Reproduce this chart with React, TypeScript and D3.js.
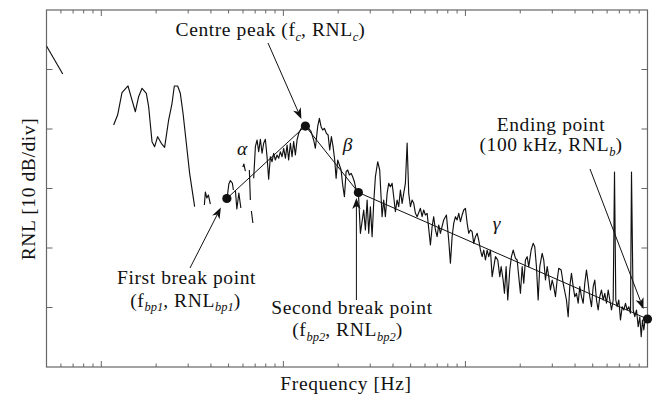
import React from "react";
import * as d3 from "d3";

// ---------- data (frequency in Hz, level in dB relative to bottom of axis) ----------
const FREQ_DOMAIN = [50, 100000];
const DB_DOMAIN = [0, 60];
const DB_TICKS = [10, 20, 30, 40, 50];

const topLineFreq = [50, 61.4];
const topLineDb = [53.95, 49.24];

const lowBumpFreq = [116.9, 122.9, 129.9, 140.2, 145.6, 153.8, 160.3, 167.4, 176.7, 182, 189.9, 196.3, 203.9, 213.6, 222.7, 234.3, 244.6, 251.8, 262.6, 271.6, 281.1, 293.1, 305.6, 325.6];
const lowBumpDb = [40.67, 42.35, 46.1, 47.23, 45.43, 42.9, 45.43, 46.84, 46.0, 43.75, 37.87, 37.03, 38.71, 37.6, 36.92, 41.51, 44.32, 47.23, 47.23, 46.0, 42.64, 37.6, 32.55, 26.94];

const frag1Freq = [368.1, 372.8, 380, 387.3, 397.2];
const frag1Db = [27.23, 29.41, 28.4, 28.91, 27.39];
const frag2Freq = [492.4, 501.8, 511.5, 524.6, 531.3];
const frag2Db = [28.74, 30.76, 31.34, 30.92, 29.75];
const frag3Freq = [544.9, 555.3, 569.5, 584.1];
const frag3Db = [29.75, 26.55, 29.24, 26.72];
const frag4Freq = [599.1, 606.7, 618.3];
const frag4Db = [33.61, 34.12, 32.94];
const frag5Freq = [650.4, 658.7];
const frag5Db = [33.11, 28.07];
const frag6Freq = [667.1, 679.9];
const frag6Db = [26.22, 24.2];

const mainFreq = [
  686.9, 701.9, 717.1, 731.8, 747.6, 763.8, 779.5, 796.3, 813.6, 830.2, 848.3, 866.7, 884.4, 903.6, 923.4, 942.4, 962.7, 983.7,
  1004, 1026, 1048, 1069, 1093, 1116, 1139, 1164, 1189, 1214, 1240, 1267, 1321, 1377, 1420, 1467, 1499, 1543, 1577, 1611, 1644,
  1680, 1723, 1761, 1797, 1835, 1875, 1914, 1948, 1988, 2031, 2075, 2118, 2164, 2211, 2256, 2305, 2355, 2403, 2455, 2509, 2583,
  2649, 2762, 2822, 2884, 2943, 3006, 3072, 3134, 3202, 3297, 3381, 3485, 3557, 3634, 3714, 3789, 3871, 3956, 4037, 4124, 4214,
  4300, 4394, 4489, 4581, 4680, 4783, 4881, 4987, 5095, 5199, 5313, 5428, 5659, 5782, 5900, 6028, 6160, 6422, 6561, 6695, 6841,
  6989, 7132, 7287, 7598, 7862, 8093, 8270, 8450, 8623, 8811, 9002, 9188, 9387, 9592, 9788, 10000, 10220, 10430, 10650, 10880,
  11110, 11350, 11600, 11830, 12090, 12350, 12610, 12880, 13160, 13430, 13720, 14020, 14620, 15050, 15440, 15710, 16110, 16380,
  16730, 17080, 17520, 17890, 18290, 18830, 19230, 19630, 20050, 20490, 20910, 21360, 21830, 22270, 22960, 23550, 24030, 24550,
  25080, 25600, 26390, 26930, 27520, 28120, 28690, 29310, 29950, 30560, 31220, 31900, 32550, 33560, 34420, 34990, 35880, 36670,
  37420, 38230, 39070, 39860, 40730, 41610, 42460, 43390, 44330, 45240, 46220, 47230, 48200, 49240, 50310, 51340, 52460, 53590,
  54690, 55880, 57100, 58260, 59530, 60830, 62080, 63420, 64800, 65880, 66960, 68160, 69560, 71060, 72600, 74100, 75700, 77350,
  78940, 80650, 81680, 83450, 85160, 87020, 88910, 90730, 92350, 93870, 95440, 97500, 100000,
];
const mainDb = [
  31.71, 37.03, 38.15, 36.18, 38.27, 35.92, 37.6, 38.27, 35.34, 31.55, 35.34, 34.5, 35.92, 34.79, 35.63, 35.08, 36.18, 35.34,
  36.76, 35.08, 37.31, 34.79, 37.6, 35.34, 37.87, 35.63, 38.15, 39.28, 39.83, 40.39, 40.55, 40.12, 39.55, 38.15, 36.76, 40.39, 41.8, 40.39, 39.83,
  40.12, 39.28, 38.99, 36.47, 38.71, 37.03, 34.79, 31.71, 34.79, 33.95, 33.11, 30.59, 28.62, 32.82, 33.11, 32.27, 32.55, 31.98, 31.14, 29.75, 29.33,
  22.47, 26.39, 23.03, 28.07, 22.47, 26.94, 21.9, 27.51, 31.98, 34.5, 33.11, 25.26, 28.07, 25.26, 29.19, 30.87, 30.3, 30.87, 28.62, 26.1, 28.07,
  26.94, 29.75, 27.51, 29.19, 30.87, 37.65, 29.19, 26.94, 28.07, 27.51, 25.83, 25.26, 26.67, 25.26, 26.39, 25.55, 25.83, 20.5, 23.58, 25.26, 23.03,
  21.9, 23.87, 22.47, 24.71, 25.55, 21.34, 17.43, 21.9, 24.15, 25.26, 24.71, 25.83, 24.42, 25.55, 26.39, 26.67, 24.15, 22.47, 23.03, 22.74,
  20.79, 21.9, 22.47, 21.34, 19.66, 18.54, 19.66, 17.98, 19.66, 18.54, 19.66, 15.18, 18.54, 17.98, 15.18, 16.86, 14.62, 12.39,
  16.86, 11.26, 16.3, 18.54, 19.66, 18.27, 17.98, 15.18, 12.39, 16.86, 14.07, 17.98, 18.54, 16.86, 19.66, 20.79, 20.22, 16.86,
  11.26, 16.86, 19.11, 17.98, 14.62, 16.86, 15.18, 12.94, 14.62, 13.5, 11.82, 14.62, 16.59, 16.3, 14.07, 12.94, 11.26, 8.45,
  13.5, 15.75, 13.5, 11.82, 12.39, 10.71, 13.5, 11.82, 10.71, 14.07, 16.3, 14.07, 11.82, 10.13, 13.5, 14.62, 11.26, 9.58,
  11.82, 12.94, 11.26, 12.39, 10.71, 12.94, 11.26, 9.58, 11.26, 32.77, 11.26, 10.13, 11.26, 7.9, 10.13, 9.58, 10.71, 9.58,
  10.13, 9.03, 32.77, 9.58, 8.45, 9.58, 6.77, 8.45, 5.09, 7.9, 6.22, 8.45, 8.07,
];

// break points of the fitted model: first break, centre peak, second break, ending point
const fitFreq = [489.3, 1321, 2583, 100000];
const fitDb = [28.32, 40.5, 29.33, 8.07];

// ---------- layout ----------
const W = 655;
const H = 397;
const L = 46.5, R = 647.5, T = 10, B = 367;
const FONT = "'Liberation Serif', 'Times New Roman', serif";
const INK = "#111";
const AXIS = "#666";
const FS = 19.5;
const LS = 0.6;
const SUB = 12.5;
const SUBDY = 4.5;

const x = d3.scaleLog().domain(FREQ_DOMAIN).range([L, R]);
const y = d3.scaleLinear().domain(DB_DOMAIN).range([B, T]);

const line = d3
  .line<[number, number]>()
  .x((d) => x(d[0]))
  .y((d) => y(d[1]));

const zip = (f: number[], v: number[]) => f.map((ff, i) => [ff, v[i]] as [number, number]);

const segments = [
  zip(topLineFreq, topLineDb),
  zip(lowBumpFreq, lowBumpDb),
  zip(frag1Freq, frag1Db),
  zip(frag2Freq, frag2Db),
  zip(frag3Freq, frag3Db),
  zip(frag4Freq, frag4Db),
  zip(frag5Freq, frag5Db),
  zip(frag6Freq, frag6Db),
  zip(mainFreq, mainDb),
];

const fitPts = zip(fitFreq, fitDb);

function Arrow({ x1, y1, x2, y2 }: { x1: number; y1: number; x2: number; y2: number }) {
  const ang = Math.atan2(y2 - y1, x2 - x1);
  const deg = (ang * 180) / Math.PI;
  const len = 11;
  const bx = x2 - Math.cos(ang) * 8;
  const by = y2 - Math.sin(ang) * 8;
  return (
    <g>
      <line x1={x1} y1={y1} x2={bx} y2={by} stroke={INK} strokeWidth={1} />
      <path
        d={`M0,0 L${-len},-4.2 L${-len + 3},0 L${-len},4.2 Z`}
        transform={`translate(${x2},${y2}) rotate(${deg})`}
        fill={INK}
      />
    </g>
  );
}

// parts: alternating normal / subscript strings, starting with normal
function Label({ x: tx, y: ty, parts }: { x: number; y: number; parts: string[] }) {
  return (
    <text x={tx} y={ty} textAnchor="middle">
      {parts.map((p, i) => {
        const isSub = i % 2 === 1;
        const dy = i === 0 ? 0 : isSub ? SUBDY : -SUBDY;
        return (
          <tspan
            key={i}
            dy={dy}
            fontSize={isSub ? SUB : undefined}
            fontStyle={isSub ? "italic" : undefined}
            letterSpacing={isSub ? 0 : undefined}
          >
            {p}
          </tspan>
        );
      })}
    </text>
  );
}

export default function App() {
  const xticks = x.ticks();
  const isMajor = (v: number) => Math.abs(Math.log10(v) - Math.round(Math.log10(v))) < 1e-6;

  const [bp1x, bp1y] = [x(fitFreq[0]), y(fitDb[0])];
  const [cx, cy] = [x(fitFreq[1]), y(fitDb[1])];
  const [bp2x, bp2y] = [x(fitFreq[2]), y(fitDb[2])];
  const [ex, ey] = [x(fitFreq[3]), y(fitDb[3])];

  return (
    <svg
      width={W}
      height={H}
      viewBox={`0 0 ${W} ${H}`}
      style={{ position: "absolute", left: 0, top: 0, background: "#fff" }}
      fontFamily={FONT}
    >
      <rect x={0} y={0} width={W} height={H} fill="#fff" />
      {/* frame */}
      <rect x={L} y={T} width={R - L} height={B - T} fill="none" stroke={AXIS} strokeWidth={1.2} />
      {/* x ticks (bottom and top) */}
      {xticks.map((v, i) => {
        const len = isMajor(v) ? 6 : 3.5;
        const px = x(v);
        return (
          <g key={i} stroke={AXIS} strokeWidth={1}>
            <line x1={px} x2={px} y1={B} y2={B - len} />
            <line x1={px} x2={px} y1={T} y2={T + len} />
          </g>
        );
      })}
      {/* y ticks (left and right) */}
      {DB_TICKS.map((v, i) => (
        <g key={i} stroke={AXIS} strokeWidth={1}>
          <line x1={L} x2={L + 6} y1={y(v)} y2={y(v)} />
          <line x1={R} x2={R - 6} y1={y(v)} y2={y(v)} />
        </g>
      ))}

      <clipPath id="plot">
        <rect x={L} y={T} width={R - L} height={B - T} />
      </clipPath>
      <g clipPath="url(#plot)">
        {segments.map((s, i) => (
          <path key={i} d={line(s) || ""} fill="none" stroke={INK} strokeWidth={1.15} strokeLinejoin="round" />
        ))}
        <path d={line(fitPts) || ""} fill="none" stroke={INK} strokeWidth={1} />
      </g>
      {fitPts.map((p, i) => (
        <circle key={i} cx={x(p[0])} cy={y(p[1])} r={4.6} fill={INK} />
      ))}

      {/* annotations */}
      <Arrow x1={268} y1={43} x2={cx - 4} y2={cy - 7} />
      <Arrow x1={190} y1={268} x2={bp1x - 6} y2={bp1y + 9} />
      <Arrow x1={bp2x - 2} y1={300} x2={bp2x - 2} y2={bp2y + 5.5} />
      <Arrow x1={590} y1={169} x2={ex - 4} y2={ey - 10} />

      <g fill={INK} fontSize={FS} letterSpacing={LS}>
        <Label x={270.5} y={36} parts={["Centre peak (f", "c", ", RNL", "c", ")"]} />
        <text x={551} y={131} textAnchor="middle">Ending point</text>
        <Label x={551} y={151} parts={["(100 kHz, RNL", "b", ")"]} />
        <text x={186.5} y={284} textAnchor="middle">First break point</text>
        <Label x={185.5} y={306.5} parts={["(f", "bp1", ", RNL", "bp1", ")"]} />
        <text x={352} y={313.5} textAnchor="middle">Second break point</text>
        <Label x={347.5} y={336} parts={["(f", "bp2", ", RNL", "bp2", ")"]} />
        <text x={242.5} y={155} textAnchor="middle" fontStyle="italic">α</text>
        <text x={348} y={151} textAnchor="middle" fontStyle="italic">β</text>
        <text x={497} y={230} textAnchor="middle" fontStyle="italic">γ</text>

        <text x={346} y={390} textAnchor="middle">Frequency [Hz]</text>
        <text transform="translate(35,189) rotate(-90)" textAnchor="middle">RNL [10 dB/div]</text>
      </g>
    </svg>
  );
}
